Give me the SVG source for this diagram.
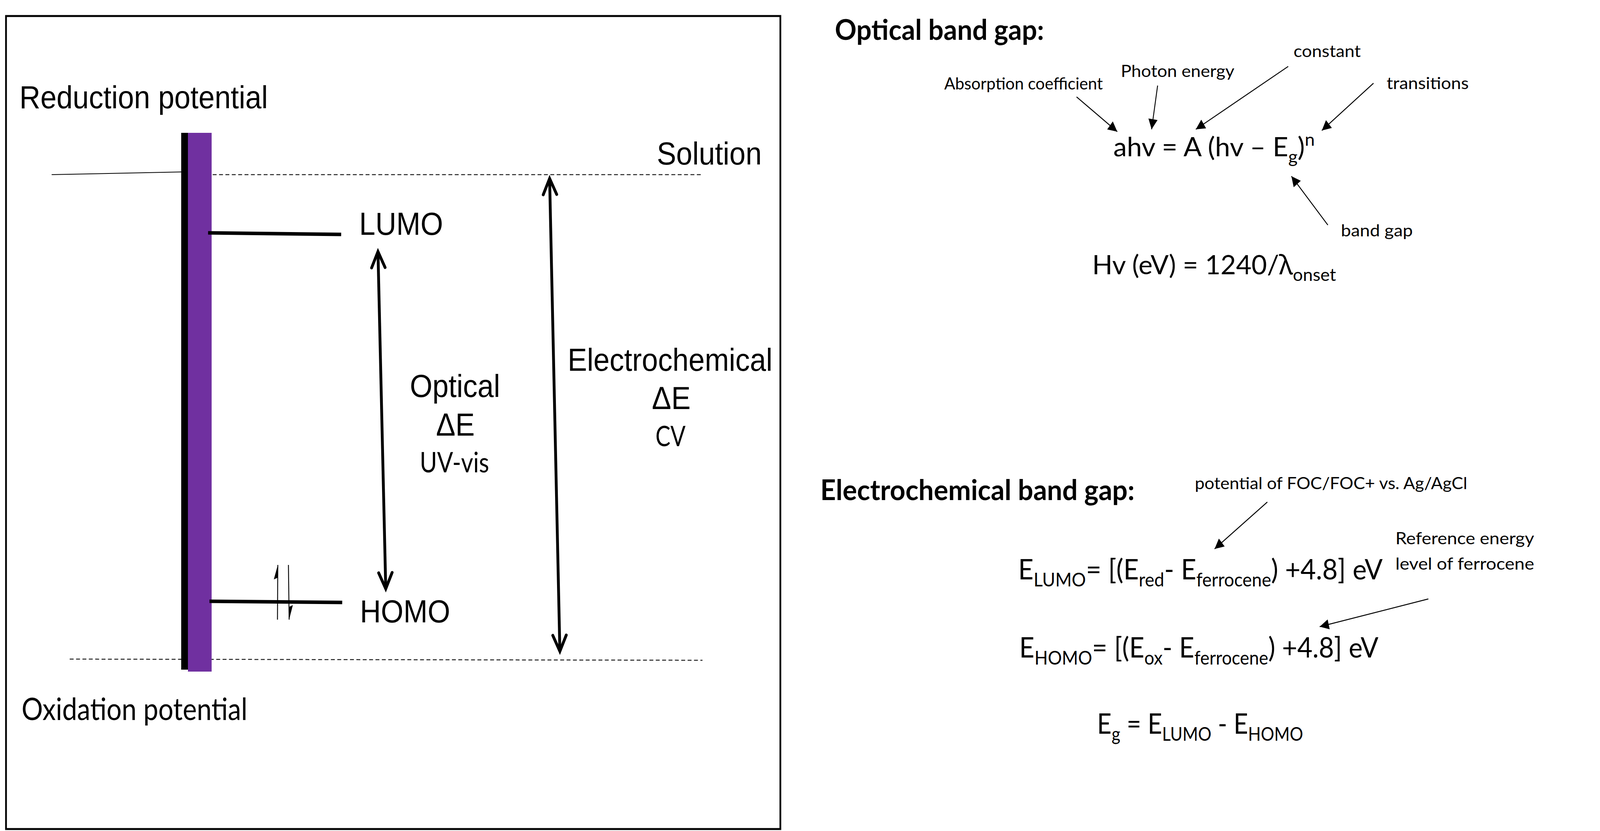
<svg xmlns="http://www.w3.org/2000/svg" width="4521" height="2127" viewBox="0 0 4521 2127" preserveAspectRatio="none">
<style>
svg{max-width:100vw;max-height:100vh}
.ar{font-family:'Liberation Sans',Arial,sans-serif;font-size:82px;fill:#000}
.ca{font-family:Lato,'Noto Sans',sans-serif;fill:#000}
.lbl{font-size:42px}
.frm{font-size:72px}
.frm2{font-size:68px}
.sub{font-size:48px}
.sub2{font-size:45px}
.hd{font-size:72px;font-weight:bold}
.dash{stroke:#222;stroke-width:2.5;stroke-dasharray:11 7;fill:none}
.lvl{stroke:#000;stroke-width:9;fill:none}
.dbl{stroke:#000;stroke-width:8;fill:none;marker-start:url(#vhead);marker-end:url(#vhead)}
.ptr{stroke:#000;stroke-width:2.5;fill:none;marker-end:url(#tri)}
.spin{stroke:#000;stroke-width:2.5;fill:none;marker-end:url(#half)}
</style>
<defs>
<marker id="vhead" markerUnits="userSpaceOnUse" orient="auto-start-reverse" refX="0" refY="0" markerWidth="60" markerHeight="60" overflow="visible">
<path d="M-41,-19 L0,0 L-41,19" fill="none" stroke="#000" stroke-width="8" stroke-linecap="round" stroke-linejoin="miter"/>
</marker>
<marker id="tri" markerUnits="userSpaceOnUse" orient="auto" refX="0" refY="0" markerWidth="40" markerHeight="40" overflow="visible">
<path d="M0,0 L-26,-13 L-26,13 Z" fill="#000"/>
</marker>
<marker id="half" markerUnits="userSpaceOnUse" orient="auto" refX="0" refY="0" markerWidth="40" markerHeight="40" overflow="visible">
<path d="M0,0 L-37,-11 L-33,-1 Z" fill="#000"/>
</marker>
</defs>
<rect width="4521" height="2127" fill="#fff"/>

<g id="frame">
<rect x="17" y="41" width="2188" height="2081" fill="none" stroke="#000" stroke-width="5"/>
</g>

<g id="solution-line">
<line class="dash" x1="601" y1="447" x2="1985" y2="447"/>
<line x1="146" y1="447" x2="517" y2="440" stroke="#000" stroke-width="2"/>
</g>
<g id="oxidation-line">
<line class="dash" x1="197" y1="1687" x2="1985" y2="1690"/>
</g>

<g id="electrode">
<rect x="512" y="340" width="20" height="1374" fill="#000"/>
<rect x="531" y="340" width="67" height="1379" fill="#7030A0"/>
</g>

<g id="lumo">
<line class="lvl" x1="588" y1="596" x2="964" y2="600"/>
<text class="ar" x="1015" y="601">LUMO</text>
</g>
<g id="homo">
<line class="lvl" x1="592" y1="1539" x2="967" y2="1542"/>
<text class="ar" x="1017" y="1593">HOMO</text>
</g>

<g id="reduction-label"><text class="ar" x="55" y="277">Reduction potential</text></g>
<g id="solution-label"><text class="ar" x="1856" y="421">Solution</text></g>
<g id="oxidation-label"><text class="ca" x="61" y="1843" font-size="79" textLength="638" lengthAdjust="spacingAndGlyphs">Oxidation potential</text></g>

<g id="optical-label">
<text class="ar" x="1158" y="1016">Optical</text>
<text class="ar" x="1232" y="1115">ΔE</text>
<text class="ca" x="1186" y="1209" font-size="72" textLength="196" lengthAdjust="spacingAndGlyphs">UV-vis</text>
</g>
<g id="electrochemical-label">
<text class="ar" x="1604" y="949">Electrochemical</text>
<text class="ar" x="1842" y="1047">ΔE</text>
<text class="ca" x="1852" y="1142" font-size="71" textLength="85" lengthAdjust="spacingAndGlyphs">CV</text>
</g>

<g id="optical-heading"><text class="ca hd" x="2359" y="102" textLength="591" lengthAdjust="spacingAndGlyphs">Optical band gap:</text></g>
<g id="label-constant"><text class="ca lbl" x="3655" y="146" textLength="190" lengthAdjust="spacingAndGlyphs">constant</text></g>
<g id="label-photon"><text class="ca lbl" x="3167" y="197" textLength="321" lengthAdjust="spacingAndGlyphs">Photon energy</text></g>
<g id="label-absorption"><text class="ca lbl" x="2668" y="229" textLength="448" lengthAdjust="spacingAndGlyphs">Absorption coefficient</text></g>
<g id="label-transitions"><text class="ca lbl" x="3918" y="228" textLength="232" lengthAdjust="spacingAndGlyphs">transitions</text></g>
<g id="formula-tauc"><text class="ca frm2" x="3146" y="400" textLength="569" lengthAdjust="spacingAndGlyphs">ahv = A (hv – E<tspan class="sub2" dy="17">g</tspan><tspan dy="-17">)</tspan><tspan class="sub2" dy="-27">n</tspan></text></g>
<g id="label-bandgap"><text class="ca lbl" x="3789" y="605" textLength="203" lengthAdjust="spacingAndGlyphs">band gap</text></g>
<g id="formula-hv"><text class="ca frm2" x="3086" y="702" textLength="689" lengthAdjust="spacingAndGlyphs">Hv (eV) = 1240/<tspan font-family="'Noto Sans',sans-serif">λ</tspan><tspan class="sub2" dy="17">onset</tspan></text></g>

<g id="electrochemical-heading"><text class="ca hd" x="2318" y="1280" textLength="888" lengthAdjust="spacingAndGlyphs">Electrochemical band gap:</text></g>
<g id="label-foc"><text class="ca lbl" x="3376" y="1252" textLength="770" lengthAdjust="spacingAndGlyphs">potential of FOC/FOC+ vs. Ag/AgCl</text></g>
<g id="label-reference">
<text class="ca lbl" x="3943" y="1393" textLength="392" lengthAdjust="spacingAndGlyphs">Reference energy</text>
<text class="ca lbl" x="3943" y="1458" textLength="392" lengthAdjust="spacingAndGlyphs">level of ferrocene</text>
</g>
<g id="formula-lumo"><text class="ca frm" x="2877" y="1483" textLength="1030" lengthAdjust="spacingAndGlyphs">E<tspan class="sub" dy="18">LUMO</tspan><tspan dy="-18">= [(E</tspan><tspan class="sub" dy="18">red</tspan><tspan dy="-18">- E</tspan><tspan class="sub" dy="18">ferrocene</tspan><tspan dy="-18">) +4.8] eV</tspan></text></g>
<g id="formula-homo"><text class="ca frm" x="2880" y="1683" textLength="1015" lengthAdjust="spacingAndGlyphs">E<tspan class="sub" dy="18">HOMO</tspan><tspan dy="-18">= [(E</tspan><tspan class="sub" dy="18">ox</tspan><tspan dy="-18">- E</tspan><tspan class="sub" dy="18">ferrocene</tspan><tspan dy="-18">) +4.8] eV</tspan></text></g>
<g id="formula-eg"><text class="ca frm" x="3100" y="1878" textLength="582" lengthAdjust="spacingAndGlyphs">E<tspan class="sub" dy="18">g</tspan><tspan dy="-18"> = E</tspan><tspan class="sub" dy="18">LUMO</tspan><tspan dy="-18"> - E</tspan><tspan class="sub" dy="18">HOMO</tspan></text></g>

<g id="connectors">
<line class="dbl" x1="1068" y1="644" x2="1090" y2="1507"/>
<line class="dbl" x1="1553" y1="457" x2="1582" y2="1667"/>
<line class="spin" x1="784" y1="1586" x2="785" y2="1446"/>
<line class="spin" x1="815" y1="1446" x2="817" y2="1586"/>
<line class="ptr" x1="3042" y1="248" x2="3157" y2="337"/>
<line class="ptr" x1="3271" y1="219" x2="3254" y2="331"/>
<line class="ptr" x1="3640" y1="170" x2="3379" y2="331"/>
<line class="ptr" x1="3881" y1="213" x2="3735" y2="334"/>
<line class="ptr" x1="3752" y1="576" x2="3649" y2="451"/>
<line class="ptr" x1="3581" y1="1285" x2="3432" y2="1405"/>
<line class="ptr" x1="4036" y1="1533" x2="3729" y2="1604"/>
</g>
</svg>
